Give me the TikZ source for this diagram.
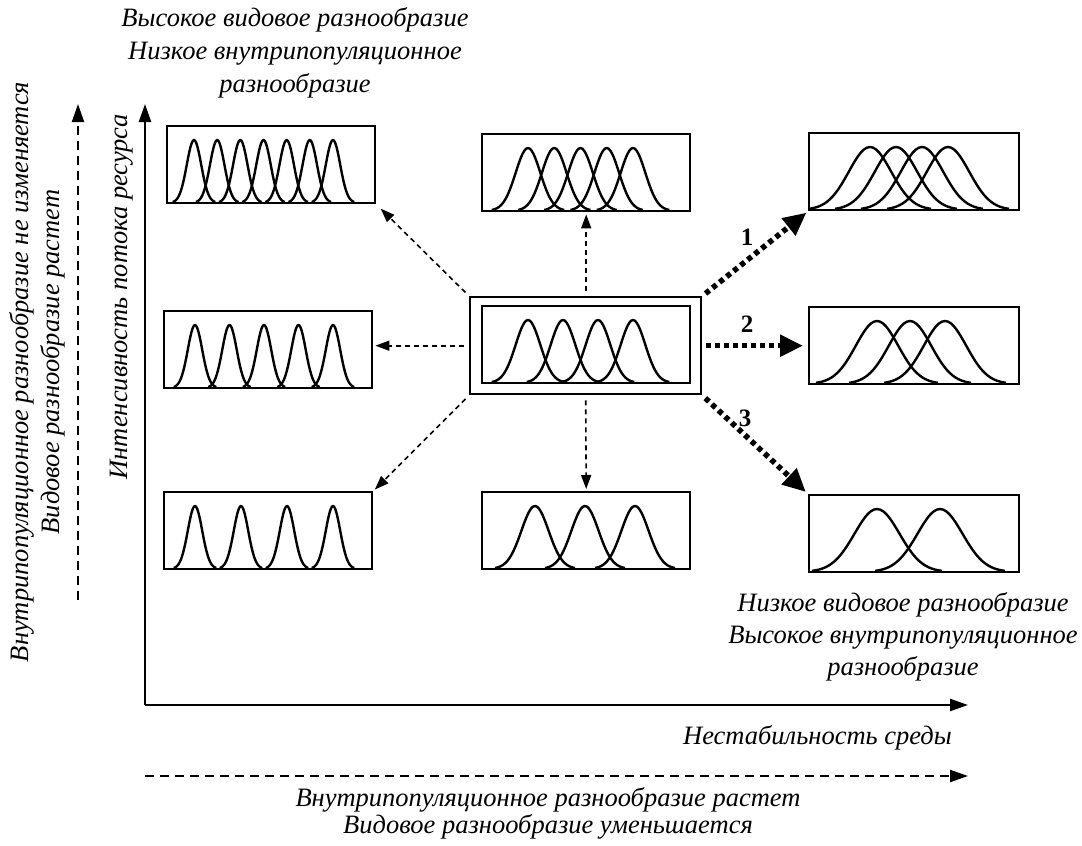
\documentclass[tikz,border=0pt]{standalone}
\usepackage{fontspec}
\setmainfont{Liberation Serif}
\usetikzlibrary{arrows.meta}
\newcommand{\bellset}[5]{%
  \foreach \cc in {#3} {
    \draw[curve] plot[domain=-#5:#5, samples=41, smooth] ({#1+\cc+\x}, {#2-62*(exp(-2.7726*(\x/#4)*(\x/#4))-0.0132)/0.9868});
  }}
\begin{document}
\begin{tikzpicture}[x=1pt,y=-1pt,
  box/.style={draw, line width=2.4pt, minimum width=208pt, minimum height=77pt, inner sep=0pt, anchor=north west},
  curve/.style={line width=2.4pt, line join=round},
  thinarr/.style={line width=1.6pt, dash pattern=on 5pt off 4pt, -{Triangle[length=14pt,width=10pt]}},
  thickarr/.style={line width=5.5pt, dash pattern=on 5pt off 4pt, -{Triangle[length=23pt,width=21pt]}},
  lbl/.style={font=\fontsize{26.5}{33}\selectfont\itshape, align=center, inner sep=0pt},
  num/.style={font=\fontsize{25}{28}\selectfont\bfseries, inner sep=0pt},
  axisarr/.style={line width=2.4pt, -{Triangle[length=18pt,width=12pt]}},
  dasharr/.style={line width=2pt, dash pattern=on 9pt off 6pt, -{Triangle[length=18pt,width=12pt]}},
]
\useasboundingbox (0,0) rectangle (1082,846);

% axes
\coordinate (o) at (145,705);
\coordinate (ytip) at (145,104);
\coordinate (xtip) at (968,705);
\draw[axisarr] (o) -- (ytip);
\draw[axisarr] (o) -- (xtip);

% boxes
\node[box] (tl) at (166,125) {};
\node[box] (tm) at (481,133) {};
\node[box, minimum width=210pt] (tr) at (808,132) {};
\node[box] (ml) at (163,310) {};
\node[draw, line width=2.4pt, minimum width=231pt, minimum height=97pt, inner sep=0pt, anchor=north west] (c) at (469,296) {};
\node[box] (ci) at (481,305) {};
\node[box, minimum width=210pt] (mr) at (808,306) {};
\node[box] (bl) at (163,491) {};
\node[box] (bm) at (481,491) {};
\node[box, minimum width=210pt] (br) at (808,494) {};

% bells
\bellset{166}{202}{28,51.2,74.3,97.5,120.7,143.8,167}{17}{21.25}
\bellset{163}{387}{32,66.5,101,135.5,170}{17}{21.25}
\bellset{163}{568}{32,78,124,170}{17}{21.25}
\bellset{481}{210}{47,73.25,99.5,125.75,152}{29}{36.25}
\bellset{481}{382}{47,82,117,152}{29}{36.25}
\bellset{481}{568}{54,104,154}{32}{40}
\bellset{808}{209}{62,88,114,140}{50}{61}
\bellset{808}{383}{69,102,137}{50}{61}
\bellset{808}{571}{69,132}{53}{65}

% thin dashed arrows
\draw[thinarr, shorten <=5pt, shorten >=6pt] (c.north west) -- (tl.south east);
\draw[thinarr, shorten <=5pt, shorten >=2pt] (c.north -| ci.north) -- (tm.south);
\draw[thinarr, shorten <=5pt, shorten >=2pt] (c.west) -- (c.west -| ml.east);
\draw[thinarr, shorten <=5pt, shorten >=2pt] (c.south west) -- (bl.north east);
\draw[thinarr, shorten <=5pt, shorten >=2pt] (c.south) -- (bm.north);

% thick dotted arrows
\draw[thickarr, shorten <=4pt, shorten >=2pt] (c.north east) -- (tr.south west);
\draw[thickarr, shorten <=4pt, shorten >=5pt] (c.east) -- (c.east -| mr.west);
\draw[thickarr, shorten <=4pt, shorten >=3pt] (c.south east) -- (br.north west);
\node[num] (n1) at (747,237) {1};
\node[num] (n2) at (747,324) {2};
\node[num] (n3) at (745,418) {3};

% texts
\node[lbl] (ttop) at (295,53) {Высокое видовое разнообразие\\Низкое внутрипопуляционное\\разнообразие};
\node[lbl, font=\fontsize{26.5}{32}\selectfont\itshape] (tbr) at (903,637) {Низкое видовое разнообразие\\Высокое внутрипопуляционное\\разнообразие};
\node[lbl, anchor=east] (tx) at (952,738) {Нестабильность среды};
\node[lbl, rotate=90] (ty) at (122,297) {Интенсивность потока ресурса};

% bottom dashed arrow
\coordinate (bs) at (145,776);
\coordinate (be) at (968,776);
\draw[dasharr] (bs) -- (be);
\node[lbl, font=\fontsize{26.5}{27}\selectfont\itshape] (tb) at (548,813) {Внутрипопуляционное разнообразие растет\\Видовое разнообразие уменьшается};

% left dashed arrow
\coordinate (ls) at (78,600);
\coordinate (le) at (78,104);
\draw[dasharr] (ls) -- (le);
\node[lbl, rotate=90] (tl1) at (22,372) {Внутрипопуляционное разнообразие не изменяется};
\node[lbl, rotate=90] (tl2) at (53,362) {Видовое разнообразие растет};
\end{tikzpicture}
\end{document}
